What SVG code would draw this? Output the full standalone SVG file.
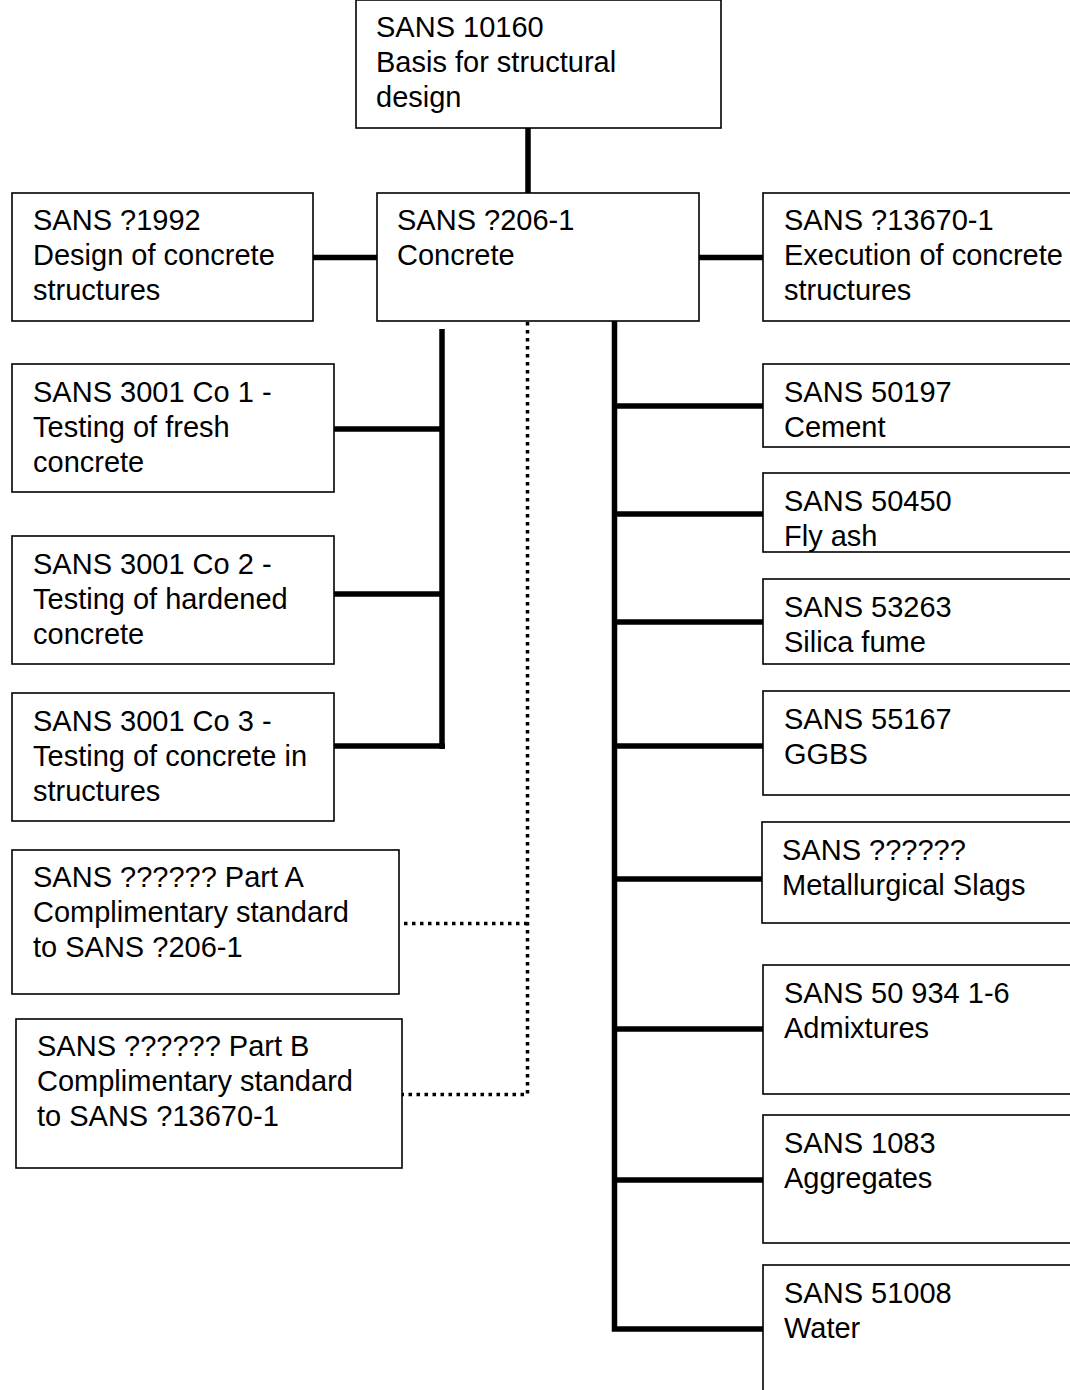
<svg xmlns="http://www.w3.org/2000/svg" width="1070" height="1390" viewBox="0 0 1070 1390">
<style>
.box{fill:#fff;stroke:#000;stroke-width:1.6}
.t{font-family:"Liberation Sans",Arial,sans-serif;font-size:29px;fill:#000}
.c{fill:none;stroke:#000;stroke-width:5.5}
.d{fill:none;stroke:#000;stroke-width:3.5;stroke-dasharray:3.5 4.5}
</style>
<rect width="1070" height="1390" fill="#fff"/>
<g id="connectors">
<line class="c" x1="528" y1="128" x2="528" y2="193"/>
<line class="c" x1="313" y1="257.5" x2="377" y2="257.5"/>
<line class="c" x1="699" y1="257.5" x2="763" y2="257.5"/>
<line class="c" x1="442" y1="329" x2="442" y2="749"/>
<line class="c" x1="334" y1="429" x2="442" y2="429"/>
<line class="c" x1="334" y1="594" x2="442" y2="594"/>
<line class="c" x1="334" y1="746" x2="445" y2="746"/>
<polyline class="c" points="614.5,321 614.5,1329 763,1329" stroke-linejoin="miter"/>
<line class="c" x1="617" y1="406" x2="763" y2="406"/>
<line class="c" x1="617" y1="514" x2="763" y2="514"/>
<line class="c" x1="617" y1="622" x2="763" y2="622"/>
<line class="c" x1="617" y1="746" x2="763" y2="746"/>
<line class="c" x1="617" y1="879" x2="762" y2="879"/>
<line class="c" x1="617" y1="1029" x2="763" y2="1029"/>
<line class="c" x1="617" y1="1180" x2="763" y2="1180"/>
<path class="d" d="M527.5 322 V1094.5 H401"/>
<path class="d" d="M527.5 923.5 H400"/>
</g>
<g id="n10160"><rect class="box" x="356" y="0" width="365" height="128"/><text class="t" x="376"><tspan x="376" y="37">SANS 10160</tspan><tspan x="376" y="72">Basis for structural</tspan><tspan x="376" y="107">design</tspan></text></g>
<g id="n206"><rect class="box" x="377" y="193" width="322" height="128"/><text class="t"><tspan x="397" y="230">SANS ?206-1</tspan><tspan x="397" y="265">Concrete</tspan></text></g>
<g id="n1992"><rect class="box" x="12" y="193" width="301" height="128"/><text class="t"><tspan x="33" y="230">SANS ?1992</tspan><tspan x="33" y="265">Design of concrete</tspan><tspan x="33" y="300">structures</tspan></text></g>
<g id="n13670"><rect class="box" x="763" y="193" width="320" height="128"/><text class="t"><tspan x="784" y="230">SANS ?13670-1</tspan><tspan x="784" y="265">Execution of concrete</tspan><tspan x="784" y="300">structures</tspan></text></g>
<g id="nCo1"><rect class="box" x="12" y="364" width="322" height="128"/><text class="t"><tspan x="33" y="402">SANS 3001 Co 1 -</tspan><tspan x="33" y="437">Testing of fresh</tspan><tspan x="33" y="472">concrete</tspan></text></g>
<g id="nCo2"><rect class="box" x="12" y="536" width="322" height="128"/><text class="t"><tspan x="33" y="574">SANS 3001 Co 2 -</tspan><tspan x="33" y="609">Testing of hardened</tspan><tspan x="33" y="644">concrete</tspan></text></g>
<g id="nCo3"><rect class="box" x="12" y="693" width="322" height="128"/><text class="t"><tspan x="33" y="731">SANS 3001 Co 3 -</tspan><tspan x="33" y="766">Testing of concrete in</tspan><tspan x="33" y="801">structures</tspan></text></g>
<g id="nPartA"><rect class="box" x="12" y="850" width="387" height="144"/><text class="t"><tspan x="33" y="887">SANS ?????? Part A</tspan><tspan x="33" y="922">Complimentary standard</tspan><tspan x="33" y="957">to SANS ?206-1</tspan></text></g>
<g id="nPartB"><rect class="box" x="16" y="1019" width="386" height="149"/><text class="t"><tspan x="37" y="1056">SANS ?????? Part B</tspan><tspan x="37" y="1091">Complimentary standard</tspan><tspan x="37" y="1126">to SANS ?13670-1</tspan></text></g>
<g id="n50197"><rect class="box" x="763" y="364" width="320" height="83"/><text class="t"><tspan x="784" y="402">SANS 50197</tspan><tspan x="784" y="437">Cement</tspan></text></g>
<g id="n50450"><rect class="box" x="763" y="473" width="320" height="79"/><text class="t"><tspan x="784" y="511">SANS 50450</tspan><tspan x="784" y="546">Fly ash</tspan></text></g>
<g id="n53263"><rect class="box" x="763" y="579" width="320" height="85"/><text class="t"><tspan x="784" y="617">SANS 53263</tspan><tspan x="784" y="652">Silica fume</tspan></text></g>
<g id="n55167"><rect class="box" x="763" y="691" width="320" height="104"/><text class="t"><tspan x="784" y="729">SANS 55167</tspan><tspan x="784" y="764">GGBS</tspan></text></g>
<g id="nSlags"><rect class="box" x="762" y="822" width="321" height="101"/><text class="t"><tspan x="782" y="860">SANS ??????</tspan><tspan x="782" y="895">Metallurgical Slags</tspan></text></g>
<g id="n50934"><rect class="box" x="763" y="965" width="320" height="129"/><text class="t"><tspan x="784" y="1003">SANS 50 934 1-6</tspan><tspan x="784" y="1038">Admixtures</tspan></text></g>
<g id="n1083"><rect class="box" x="763" y="1115" width="320" height="128"/><text class="t"><tspan x="784" y="1153">SANS 1083</tspan><tspan x="784" y="1188">Aggregates</tspan></text></g>
<g id="n51008"><rect class="box" x="763" y="1265" width="320" height="140"/><text class="t"><tspan x="784" y="1303">SANS 51008</tspan><tspan x="784" y="1338">Water</tspan></text></g>
</svg>
